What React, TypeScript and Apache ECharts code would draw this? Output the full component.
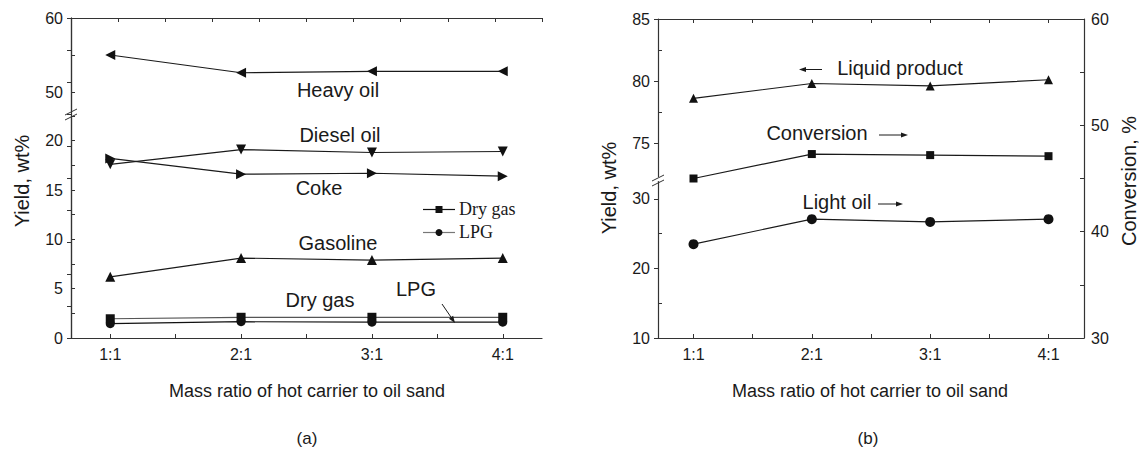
import React, { useEffect, useRef } from 'react';
import * as echarts from 'echarts';

// ---------- data ----------
const ratios = ['1:1', '2:1', '3:1', '4:1'];
const ratioValues = [1, 2, 3, 4];
// panel (a)
const heavyOil = [55.0, 52.6, 52.8, 52.8];
const dieselOil = [17.6, 19.1, 18.8, 18.9];
const coke = [18.2, 16.6, 16.7, 16.4];
const gasoline = [6.2, 8.1, 7.9, 8.1];
const dryGas = [1.95, 2.1, 2.1, 2.1];
const lpg = [1.45, 1.65, 1.6, 1.6];
// panel (b)
const liquidProduct = [78.6, 79.8, 79.6, 80.1];
const conversion = [45.0, 47.3, 47.2, 47.1];
const lightOil = [23.5, 27.1, 26.7, 27.1];

// ticks / labels
const xTickValues = [1, 1.5, 2, 2.5, 3, 3.5, 4];
const aUpperLabels = [50, 60];
const aUpperTicks = [50, 55, 60];
const bUpperLabels = [75, 80, 85];
const bUpperMinor = [77.5, 82.5];
const bLowerLabels = [10, 20, 30];
const bLowerMinor = [15, 25];
const bRightLabels = [30, 40, 50, 60];

const pairs = (vals: number[]) => vals.map((v, i) => [ratioValues[i], v]);

const SANS = '"Liberation Sans", Arial, sans-serif';
const SERIF = '"Liberation Serif", "Times New Roman", serif';
const INK = '#1a1a1a';
const AXIS = '#333';

const hiddenX = (grid: number) => ({
  type: 'value', gridIndex: grid, min: 0.7, max: 4.3, show: false,
});

const bottomX = (grid: number) => ({
  type: 'value', gridIndex: grid, min: 0.7, max: 4.3, position: 'bottom',
  axisLine: { show: true, lineStyle: { color: AXIS, width: 1.2 } },
  axisTick: { show: true, inside: true, length: 4, customValues: xTickValues, lineStyle: { color: AXIS } },
  axisLabel: {
    show: true, customValues: ratioValues, margin: 8,
    formatter: (v: number) => ratios[Math.round(v) - 1] ?? '',
    fontFamily: SANS, fontSize: 16, color: INK,
  },
  splitLine: { show: false },
});

const lineSeries = (name: string, vals: number[], xi: number, yi: number, symbol: string, size: number, rotate = 0, color = INK) => ({
  name, type: 'line', xAxisIndex: xi, yAxisIndex: yi, data: pairs(vals),
  symbol, symbolSize: size, symbolRotate: rotate, showSymbol: true,
  lineStyle: { color, width: 1.2 }, itemStyle: { color: '#111' },
  emphasis: { disabled: true }, z: 5,
});

const label = (text: string, x: number, y: number, size = 20, font = SANS, align = 'center', rotation = 0) => ({
  type: 'text', x, y, rotation,
  style: {
    text, fill: INK, font: `${size}px ${font}`,
    textAlign: align, textVerticalAlign: 'middle', align, verticalAlign: 'middle',
  },
  z: 10,
});

const arrow = (x1: number, y1: number, x2: number, y2: number) => {
  const ang = Math.atan2(y2 - y1, x2 - x1);
  const L = 7, W = 2.5;
  const bx = x2 - L * Math.cos(ang), by = y2 - L * Math.sin(ang);
  const px = -Math.sin(ang) * W, py = Math.cos(ang) * W;
  return [
    { type: 'line', shape: { x1, y1, x2: bx, y2: by }, style: { stroke: INK, lineWidth: 1 }, z: 10 },
    { type: 'polygon', shape: { points: [[x2, y2], [bx + px, by + py], [bx - px, by - py]] }, style: { fill: INK }, z: 10 },
  ];
};

const brk = (x: number, y: number) => [
  { type: 'line', shape: { x1: x - 6, y1: y + 1, x2: x + 6, y2: y - 5 }, style: { stroke: AXIS, lineWidth: 1 }, z: 10 },
  { type: 'line', shape: { x1: x - 6, y1: y + 6, x2: x + 6, y2: y }, style: { stroke: AXIS, lineWidth: 1 }, z: 10 },
];

export default function App() {
  const ref = useRef<HTMLDivElement>(null);

  useEffect(() => {
    if (!ref.current) return;
    const chart = echarts.init(ref.current, undefined, { renderer: 'svg' });

    const option: any = {
      animation: false,
      backgroundColor: '#fff',
      grid: [
        { left: 71, top: 18, width: 471, height: 320 },   // 0 A full frame
        { left: 71, top: 116, width: 471, height: 222 },  // 1 A lower segment
        { left: 71, top: 18, width: 471, height: 92.5 },  // 2 A upper segment
        { left: 658, top: 19, width: 426, height: 319 },  // 3 B full frame
        { left: 658, top: 181.6, width: 426, height: 156.4 }, // 4 B lower
        { left: 658, top: 19, width: 426, height: 157.5 }, // 5 B upper
      ],
      xAxis: [
        bottomX(0),
        {
          type: 'value', gridIndex: 0, position: 'top', min: 0, max: 10, interval: 1,
          axisLine: { show: true, lineStyle: { color: AXIS, width: 1.2 } },
          axisTick: { show: true, inside: true, length: 4, lineStyle: { color: AXIS } },
          axisLabel: { show: false }, splitLine: { show: false },
        },
        hiddenX(1),
        hiddenX(2),
        bottomX(3),
        {
          type: 'value', gridIndex: 3, position: 'top', min: 0.7, max: 4.3,
          axisLine: { show: true, lineStyle: { color: AXIS, width: 1.2 } },
          axisTick: { show: true, inside: true, length: 4, customValues: xTickValues, lineStyle: { color: AXIS } },
          axisLabel: { show: false }, splitLine: { show: false },
        },
        hiddenX(4),
        hiddenX(5),
      ],
      yAxis: [
        {
          type: 'value', gridIndex: 0, position: 'right', min: 0, max: 10, interval: 1,
          axisLine: { show: true, lineStyle: { color: AXIS, width: 1.2 } },
          axisTick: { show: true, inside: true, length: 4, lineStyle: { color: AXIS } },
          axisLabel: { show: false }, splitLine: { show: false },
        },
        {
          type: 'value', gridIndex: 1, position: 'left', min: 0, max: 22.5, interval: 2.5,
          axisLine: { show: true, lineStyle: { color: AXIS, width: 1.2 } },
          axisTick: { show: true, inside: true, length: 4, lineStyle: { color: AXIS } },
          axisLabel: {
            show: true, margin: 8, fontFamily: SANS, fontSize: 16, color: INK,
            formatter: (v: number) => (v % 5 === 0 && v <= 20 ? String(v) : ''),
          },
          splitLine: { show: false },
        },
        {
          type: 'value', gridIndex: 2, position: 'left', min: 47.5, max: 60,
          axisLine: { show: true, lineStyle: { color: AXIS, width: 1.2 } },
          axisTick: { show: true, inside: true, length: 4, customValues: aUpperTicks, lineStyle: { color: AXIS } },
          axisLabel: { show: true, customValues: aUpperLabels, margin: 8, fontFamily: SANS, fontSize: 16, color: INK },
          splitLine: { show: false },
        },
        {
          type: 'value', gridIndex: 3, position: 'right', min: 30, max: 60, interval: 5,
          axisLine: { show: true, lineStyle: { color: AXIS, width: 1.2 } },
          axisTick: { show: true, inside: true, length: 4, lineStyle: { color: AXIS } },
          axisLabel: { show: true, customValues: bRightLabels, margin: 7, fontFamily: SANS, fontSize: 16, color: INK },
          splitLine: { show: false },
        },
        {
          type: 'value', gridIndex: 4, position: 'left', min: 10, max: 32.5,
          axisLine: { show: true, lineStyle: { color: AXIS, width: 1.2 } },
          axisTick: { show: true, inside: false, length: 4, customValues: bLowerLabels, lineStyle: { color: AXIS } },
          axisLabel: { show: true, customValues: bLowerLabels, margin: 8, fontFamily: SANS, fontSize: 16, color: INK },
          splitLine: { show: false },
        },
        {
          type: 'value', gridIndex: 4, position: 'left', offset: 0, min: 10, max: 32.5,
          axisLine: { show: false },
          axisTick: { show: true, inside: true, length: 4, customValues: bLowerMinor, lineStyle: { color: AXIS } },
          axisLabel: { show: false }, splitLine: { show: false },
        },
        {
          type: 'value', gridIndex: 5, position: 'left', min: 72.3, max: 85,
          axisLine: { show: true, lineStyle: { color: AXIS, width: 1.2 } },
          axisTick: { show: true, inside: false, length: 4, customValues: bUpperLabels, lineStyle: { color: AXIS } },
          axisLabel: { show: true, customValues: bUpperLabels, margin: 8, fontFamily: SANS, fontSize: 16, color: INK },
          splitLine: { show: false },
        },
        {
          type: 'value', gridIndex: 5, position: 'left', offset: 0, min: 72.3, max: 85,
          axisLine: { show: false },
          axisTick: { show: true, inside: true, length: 4, customValues: bUpperMinor, lineStyle: { color: AXIS } },
          axisLabel: { show: false }, splitLine: { show: false },
        },
      ],
      series: [
        lineSeries('Heavy oil', heavyOil, 3, 2, 'triangle', 10, 90),
        lineSeries('Diesel oil', dieselOil, 2, 1, 'triangle', 10, 180),
        lineSeries('Coke', coke, 2, 1, 'triangle', 10, -90),
        lineSeries('Gasoline', gasoline, 2, 1, 'triangle', 10, 0),
        lineSeries('Dry gas', dryGas, 2, 1, 'rect', 9, 0, '#555'),
        lineSeries('LPG', lpg, 2, 1, 'circle', 9, 0, '#111'),
        lineSeries('Liquid product', liquidProduct, 7, 6, 'triangle', 9, 0),
        lineSeries('Conversion', conversion, 4, 3, 'rect', 8, 0),
        lineSeries('Light oil', lightOil, 6, 4, 'circle', 10, 0),
      ],
      graphic: [
        // panel (a) annotations
        label('Heavy oil', 338, 90),
        label('Diesel oil', 340, 135),
        label('Coke', 319, 188),
        label('Gasoline', 338, 243),
        label('Dry gas', 320, 300),
        label('LPG', 416, 289),
        ...arrow(442, 304, 455, 323),
        // legend (a)
        { type: 'line', shape: { x1: 423, y1: 209.5, x2: 455, y2: 209.5 }, style: { stroke: '#111', lineWidth: 1.2 }, z: 10 },
        { type: 'rect', shape: { x: 435.5, y: 206, width: 7, height: 7 }, style: { fill: '#111' }, z: 10 },
        label('Dry gas', 459, 209, 18, SERIF, 'left'),
        { type: 'line', shape: { x1: 423, y1: 232.5, x2: 455, y2: 232.5 }, style: { stroke: '#777', lineWidth: 1.2 }, z: 10 },
        { type: 'circle', shape: { cx: 439, cy: 232.5, r: 3.5 }, style: { fill: '#111' }, z: 10 },
        label('LPG', 459, 232, 18, SERIF, 'left'),
        // axis break marks
        ...brk(71, 114),
        ...brk(658, 180),
        // panel (b) annotations
        label('Liquid product', 900, 68),
        ...arrow(822, 69.5, 799, 69.5),
        label('Conversion', 817, 132.5),
        ...arrow(879, 135, 908, 135),
        label('Light oil', 837, 201.5),
        ...arrow(878, 204, 903, 204),
        // axis titles
        label('Yield, wt%', 22, 181, 20, SANS, 'center', Math.PI / 2),
        label('Yield, wt%', 609, 188, 20, SANS, 'center', Math.PI / 2),
        label('Conversion, %', 1129, 181, 20, SANS, 'center', Math.PI / 2),
        label('Mass ratio of hot carrier to oil sand', 307, 391, 18),
        label('Mass ratio of hot carrier to oil sand', 870, 391, 18),
        label('(a)', 307, 438, 17),
        label('(b)', 868, 438, 17),
      ],
    };

    chart.setOption(option);
    return () => chart.dispose();
  }, []);

  return (
    <div
      ref={ref}
      style={{ position: 'fixed', left: 0, top: 0, width: 1139, height: 449, background: '#fff' }}
    />
  );
}
